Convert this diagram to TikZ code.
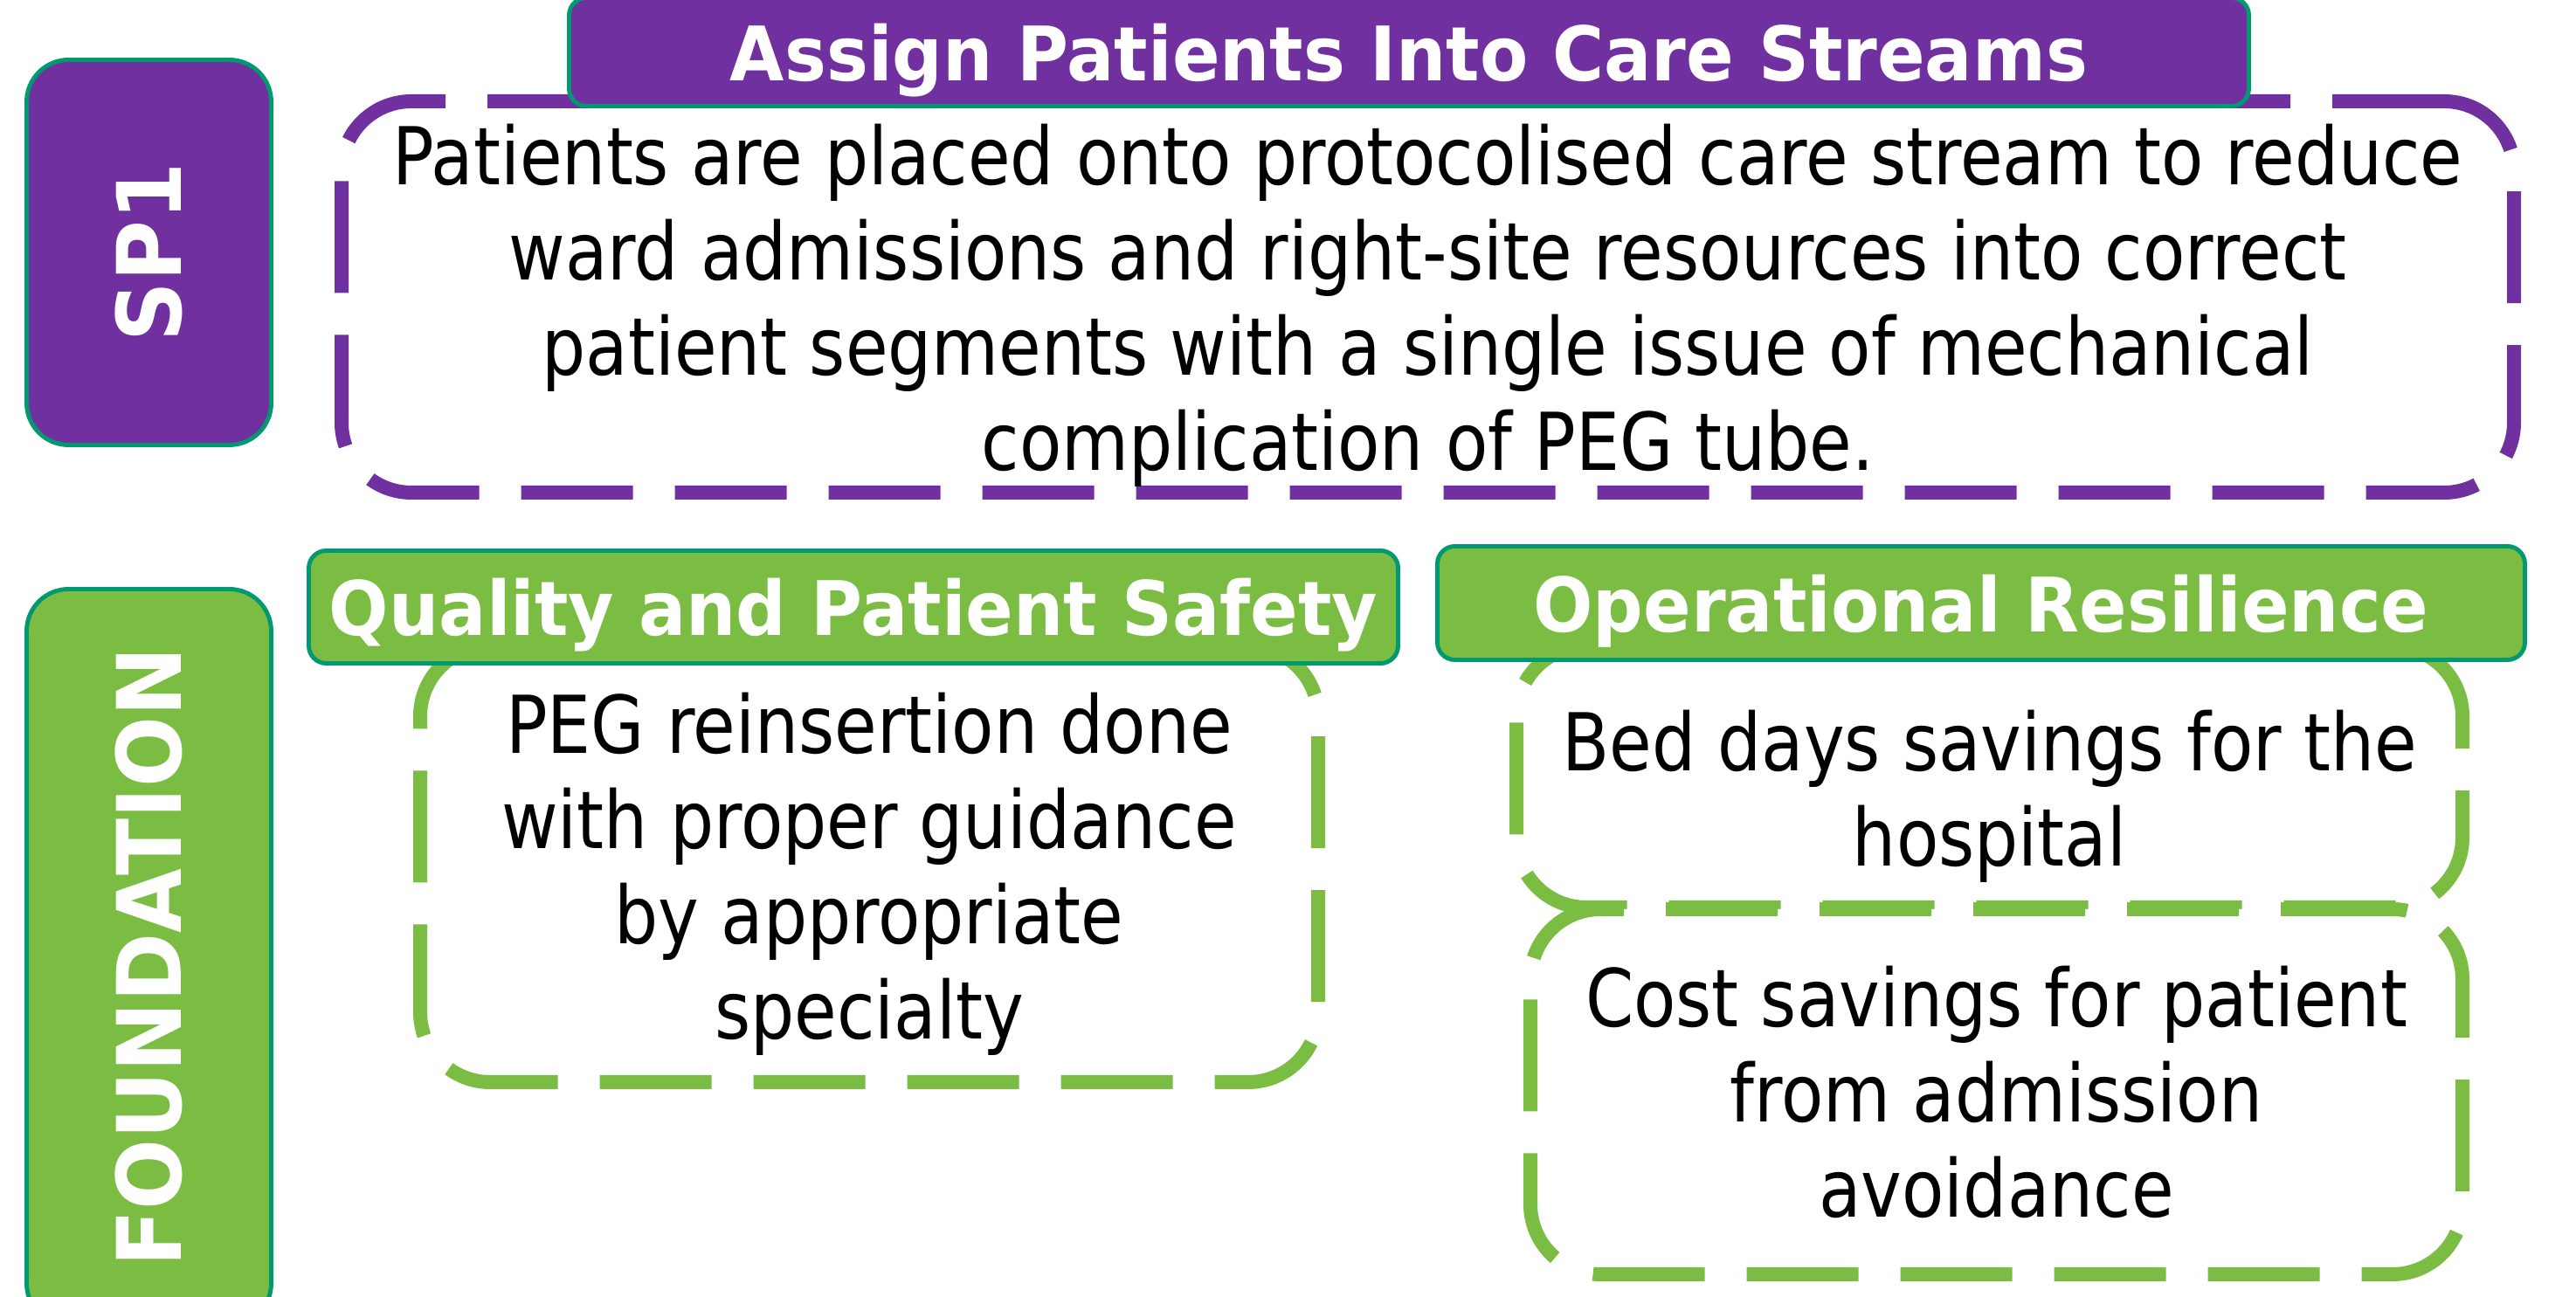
\documentclass[tikz,border=0pt]{standalone}
\usepackage{fontspec}
\setmainfont[FakeStretch=0.865]{DejaVu Sans}
\newfontfamily\headfont[FakeStretch=0.935]{DejaVu Sans}
\definecolor{spurple}{RGB}{112,48,160}
\definecolor{fgreen}{RGB}{122,189,66}
\definecolor{rimteal}{RGB}{0,153,112}
\tikzset{
sidebox/.style={
	draw=rimteal, line width=1.4pt, rounded corners=0.48cm, rotate=90,
	minimum height=2.8cm, text=white,
	font=\headfont\bfseries\fontsize{29}{34}\selectfont},
headbox/.style={
	draw=rimteal, line width=1.4pt, rounded corners=0.2cm, inner sep=0pt,
	text depth=0pt, text=white, font=\headfont\bfseries\fontsize{24.5}{29}\selectfont},
dashbox/.style={
	line width=0.16cm, dash pattern=on 1.28cm off 0.48cm, rounded corners=0.8cm,
	fill=white, inner sep=0pt},
bodytext/.style={align=center, inner sep=0pt, font=\fontsize{26}{31}\selectfont}
}

\begin{document}
\begin{tikzpicture}
	\useasboundingbox (0,0) rectangle (29.49,-14.85);
	\node[sidebox, fill=spurple, minimum width=4.41cm] (sp1) at (1.705,-2.89) {SP1};
	\node[sidebox, fill=fgreen, minimum width=8.43cm] (found) at (1.705,-10.96) {FOUNDATION};
	\node[dashbox, draw=spurple, minimum width=24.87cm, minimum height=4.48cm] (plan) at (16.345,-3.40) {};
	\node[bodytext] (plantext) at ([yshift=-0.1cm]plan.center)
		{Patients are placed onto protocolised care stream to reduce\\
		ward admissions and right-site resources into correct\\
		patient segments with a single issue of mechanical\\
		complication of PEG tube.};
	\node[headbox, fill=spurple, minimum width=19.23cm, minimum height=1.24cm] (title) at (16.13,-0.595)
		{Assign Patients Into Care Streams};
	\node[dashbox, draw=fgreen, minimum width=10.28cm, minimum height=4.99cm] (qbox) at (9.95,-9.895) {};
	\node[bodytext] (qtext) at ([yshift=-0.11cm]qbox.center)
		{PEG reinsertion done\\ with proper guidance\\ by appropriate\\ specialty};
	\node[dashbox, draw=fgreen, minimum width=10.83cm, minimum height=2.99cm] (bedbox) at (22.775,-8.895) {};
	\node[bodytext] (bedtext) at ([yshift=-0.22cm]bedbox.center)
		{Bed days savings for the\\ hospital};
	\node[dashbox, draw=fgreen, minimum width=10.67cm, minimum height=4.18cm] (costbox) at (22.855,-12.50) {};
	\node[bodytext] (costtext) at (costbox.center)
		{Cost savings for patient\\ from admission\\ avoidance};
	\node[headbox, fill=fgreen, minimum width=12.47cm, minimum height=1.29cm] (qhead) at (9.77,-6.95)
		{Quality and Patient Safety};
	\node[headbox, fill=fgreen, minimum width=12.45cm, minimum height=1.30cm] (ohead) at (22.68,-6.905)
		{Operational Resilience};
\end{tikzpicture}
\end{document}
